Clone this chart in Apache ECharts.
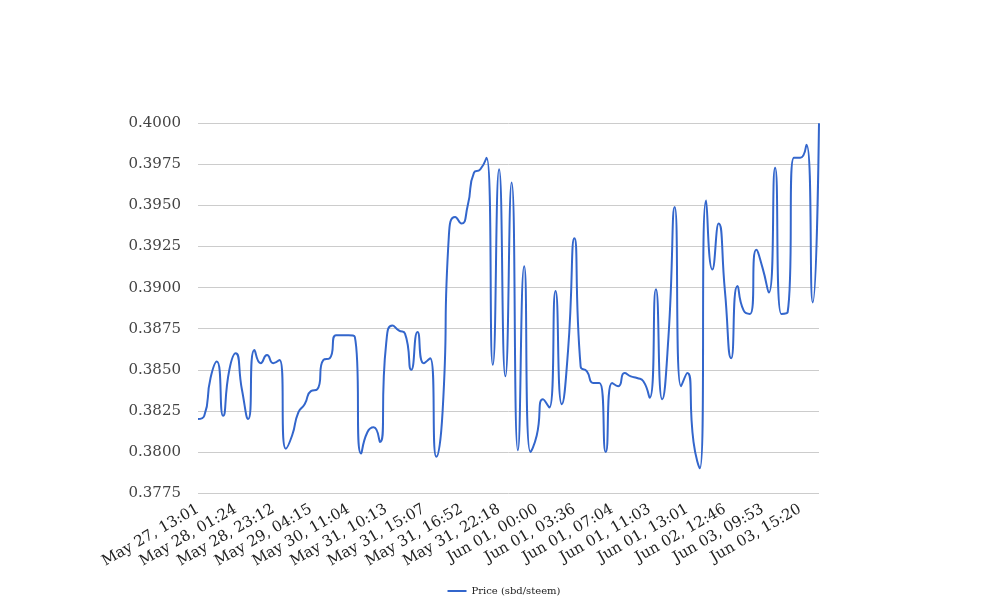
<!DOCTYPE html>
<html>
<head>
<meta charset="utf-8">
<script src="https://cdn.jsdelivr.net/npm/echarts@6/dist/echarts.min.js"></script>
<style>html,body{margin:0;padding:0;background:#fff;}#c{width:1008px;height:616px;}</style>
</head>
<body>
<div id="c"></div>
<script>
// Tick labels shown on the x axis (every 6th sample)
const tickLabels = [
  "May 27, 13:01", "May 28, 01:24", "May 28, 23:12", "May 29, 04:15",
  "May 30, 11:04", "May 31, 10:13", "May 31, 15:07", "May 31, 16:52",
  "May 31, 22:18", "Jun 01, 00:00", "Jun 01, 03:36", "Jun 01, 07:04",
  "Jun 01, 11:03", "Jun 01, 13:01", "Jun 02, 12:46", "Jun 03, 09:53",
  "Jun 03, 15:20"
];
const labelStep = 6;
const seriesName = "Price (sbd/steem)";
// Price values (100 samples)
const price = [
  0.3820, 0.3822, 0.3845, 0.3855, 0.3822, 0.3850, 0.3860, 0.3838, 0.3820, 0.3862,
  0.3854, 0.3859, 0.3854, 0.3856, 0.3802, 0.3810, 0.3824, 0.3829, 0.3837, 0.3838,
  0.3856, 0.3857, 0.3871, 0.3871, 0.3871, 0.3870, 0.3799, 0.3812, 0.3815, 0.3806,
  0.3866, 0.3877, 0.3874, 0.3872, 0.3850, 0.3873, 0.3854, 0.3857, 0.3797, 0.3825,
  0.3932, 0.3943, 0.3939, 0.3950, 0.3970, 0.3972, 0.3979, 0.3853, 0.3972, 0.3846,
  0.3964, 0.3801, 0.3913, 0.3800, 0.3810, 0.3832, 0.3827, 0.3898, 0.3829, 0.3862,
  0.3930, 0.3852, 0.3849, 0.3842, 0.3842, 0.3800, 0.3842, 0.3840, 0.3848, 0.3846,
  0.3845, 0.3843, 0.3833, 0.3899, 0.3832, 0.3870, 0.3949, 0.3840, 0.3848, 0.3806,
  0.3790, 0.3953, 0.3911, 0.3939, 0.3898, 0.3857, 0.3901, 0.3886, 0.3884, 0.3923,
  0.3912, 0.3897, 0.3973, 0.3884, 0.3885, 0.3979, 0.3979, 0.3987, 0.3891, 0.4000
];
const yMin = 0.3775, yMax = 0.4000, yStep = 0.0025;

const categories = price.map((_, i) => (i % labelStep === 0 && tickLabels[i / labelStep]) ? tickLabels[i / labelStep] : "");

const chart = echarts.init(document.getElementById('c'), null, {renderer: 'canvas'});
chart.setOption({
  animation: false,
  backgroundColor: '#ffffff',
  textStyle: {fontFamily: 'DejaVu Serif'},
  grid: {left: 198, right: 189, top: 123.3, bottom: 123, containLabel: false},
  legend: {
    bottom: 15, left: 'center',
    icon: 'rect', itemWidth: 19, itemHeight: 2, itemGap: 10,
    textStyle: {fontFamily: 'DejaVu Serif', fontSize: 10, color: '#222'},
    data: [seriesName]
  },
  xAxis: {
    type: 'category',
    data: categories,
    boundaryGap: false,
    axisLine: {show: false},
    axisTick: {show: false},
    splitLine: {show: false},
    axisLabel: {
      interval: labelStep - 1,
      rotate: 30,
      margin: 15,
      fontFamily: 'DejaVu Serif',
      fontSize: 15,
      color: '#222'
    }
  },
  yAxis: {
    type: 'value',
    min: yMin, max: yMax, interval: yStep,
    axisLine: {show: false},
    axisTick: {show: false},
    splitLine: {lineStyle: {color: '#cccccc', width: 1}},
    axisLabel: {
      margin: 17,
      fontFamily: 'DejaVu Serif',
      fontSize: 15,
      color: '#444',
      formatter: v => v.toFixed(4)
    }
  },
  series: [{
    name: seriesName,
    type: 'line',
    data: price,
    smooth: 0.6,
    showSymbol: false,
    symbol: 'none',
    lineStyle: {color: '#3366cc', width: 2},
    itemStyle: {color: '#3366cc'}
  }]
});
</script>
</body>
</html>
